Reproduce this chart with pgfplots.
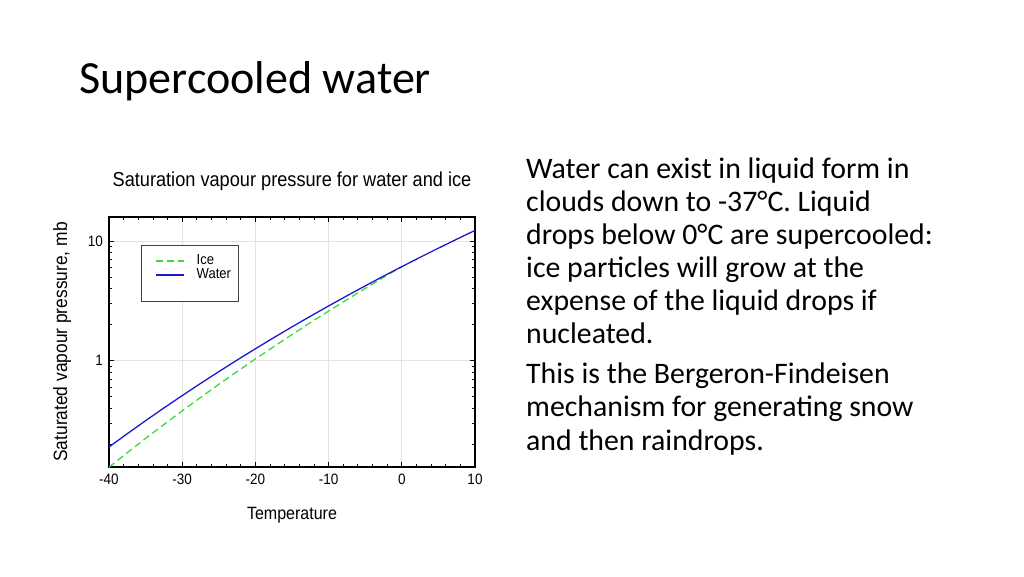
\documentclass[border=0pt]{standalone}
\usepackage{fontspec}
\setmainfont{Carlito}
\newfontfamily\chartfont[FakeStretch=0.9]{Liberation Sans}
\usepackage{pgfplots}
\pgfplotsset{compat=1.18}
\definecolor{cIce}{HTML}{3CDC3C}
\definecolor{cWater}{HTML}{1A1ACC}
\definecolor{cGrid}{HTML}{E3E3E3}
\newcommand{\bodyfont}{\fontsize{29.8}{32.8}\selectfont}
\newcommand{\tickfont}{\chartfont\fontsize{15}{15}\selectfont}

\begin{document}
\begin{tikzpicture}[x=1pt,y=1pt]
\fill[white] (0,0) rectangle (1024,576);
\path[use as bounding box] (0,0) rectangle (1024,576);

% slide title
\node[anchor=base west, inner sep=0pt, font=\fontsize{46.1}{50}\selectfont] at (79,482) {Supercooled water};

% slide text, one node per line
\begin{scope}[every node/.style={anchor=base west, inner sep=0pt, font=\bodyfont}]
\node at (526,397)   {Water can exist in liquid form in};
\node at (526,364.2) {clouds down to -37°C. Liquid};
\node at (526,331.4) {drops below 0°C are supercooled:};
\node at (526,298.6) {ice particles will grow at the};
\node at (526,265.8) {expense of the liquid drops if};
\node at (526,233)   {nucleated.};
\node at (526,192.5) {This is the Bergeron-Findeisen};
\node at (526,159.2) {mechanism for generating snow};
\node at (526,126)   {and then raindrops.};
\end{scope}

% chart title
\node[anchor=base, inner sep=0pt, font=\chartfont\fontsize{20.2}{22}\selectfont] at (292,389)
  {Saturation vapour pressure for water and ice};

\begin{axis}[
  at={(109pt,109pt)}, anchor=south west,
  width=366pt, height=250pt, scale only axis,
  xmin=-40, xmax=10,
  ymode=log, ymin=0.129, ymax=15.9,
  xtick={-40,-30,-20,-10,0,10},
  xticklabels={-40,-30,-20,-10,0,10},
  minor xtick={-38,-36,-34,-32,-28,-26,-24,-22,-18,-16,-14,-12,-8,-6,-4,-2,2,4,6,8},
  ytick={1,10},
  yticklabels={1,10},
  minor ytick={0.2,0.3,0.4,0.5,0.6,0.7,0.8,0.9,2,3,4,5,6,7,8,9},
  tick align=inside,
  major tick length=5pt, minor tick length=3pt,
  tick style={black, line width=0.8pt},
  axis line style={line width=1.8pt},
  grid=major,
  major grid style={cGrid, line width=0.7pt},
  x tick label style={font=\tickfont, inner sep=0pt, yshift=-7.3pt},
  y tick label style={font=\tickfont, inner sep=0pt, xshift=-6pt},
  xlabel={Temperature},
  ylabel={Saturated vapour pressure, mb},
  xlabel style={at={(rel axis cs:0.5,0)}, anchor=base, yshift=-52pt,
                font=\chartfont\fontsize{17.8}{18}\selectfont, inner sep=0pt},
  ylabel style={at={(rel axis cs:0,0.5)}, anchor=base, yshift=42pt,
                font=\chartfont\fontsize{19.3}{20}\selectfont, inner sep=0pt},
  legend cell align=left,
  legend image code/.code={\path (-7pt,0pt); \draw[#1] (0pt,-1.8pt) -- (28pt,-1.8pt);},
  legend style={at={(0.0874,0.888)}, anchor=north west,
                draw=black!75, line width=0.9pt,
                font=\chartfont\fontsize{14.5}{14.5}\selectfont,
                inner xsep=7pt, inner ysep=9pt,
                row sep=4.3pt, column sep=12pt,
                nodes={inner sep=0pt, text height=9.7pt, text depth=0pt}},
]
\addplot[cIce, line width=1.3pt, dash pattern=on 7pt off 4pt] coordinates {
  (-40,0.1285) (-37.5,0.1700) (-35,0.2237) (-32.5,0.2923) (-30,0.3802)
  (-27.5,0.4919) (-25,0.6330) (-22.5,0.8104) (-20,1.0326) (-17.5,1.3094)
  (-15,1.6529) (-12.5,2.0770) (-10,2.5987) (-7.5,3.2378) (-5,4.0174)
  (-2.5,4.9649) (0,6.112)
};
\addlegendentry{Ice}
\addplot[cWater, line width=1.3pt] coordinates {
  (-40,0.1896) (-37.5,0.2451) (-35,0.3148) (-32.5,0.4019) (-30,0.5103)
  (-27.5,0.6445) (-25,0.8094) (-22.5,1.0113) (-20,1.2574) (-17.5,1.5559)
  (-15,1.9162) (-12.5,2.3493) (-10,2.8677) (-7.5,3.4858) (-5,4.2200)
  (-2.5,5.0884) (0,6.112) (2.5,7.3143) (5,8.7213) (7.5,10.363) (10,12.272)
};
\addlegendentry{Water}
% blank row: the reference box keeps room for one more entry
\addlegendimage{empty legend}
\addlegendentry{}
\end{axis}
\end{tikzpicture}
\end{document}
